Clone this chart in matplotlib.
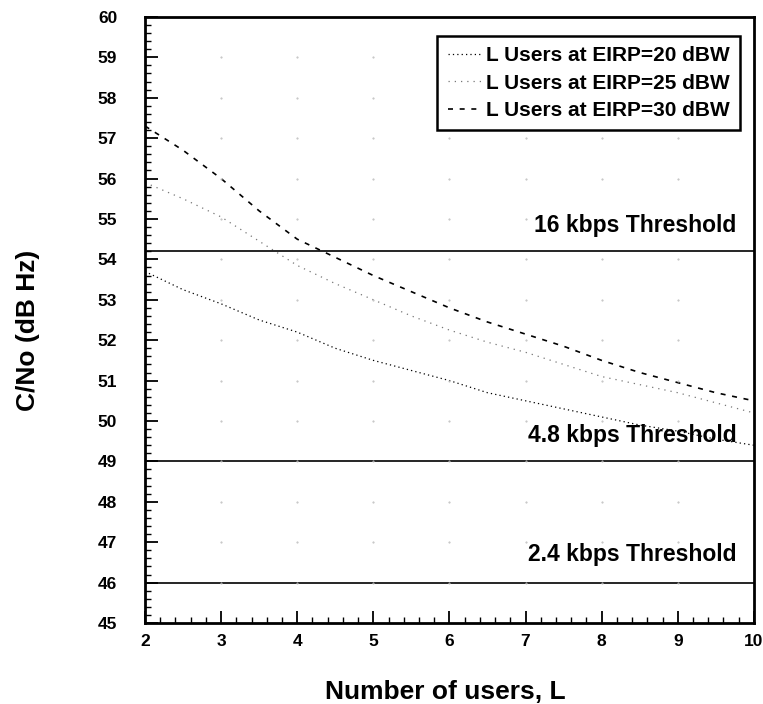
import matplotlib
matplotlib.use("Agg")
import matplotlib.pyplot as plt
from matplotlib.ticker import MultipleLocator

plt.rcParams["font.family"] = ["Liberation Sans", "DejaVu Sans"]
plt.rcParams["font.weight"] = "bold"

# Data
users = [2, 2.5, 3, 3.5, 4, 4.5, 5, 5.5, 6, 6.5, 7, 7.5, 8, 8.5, 9, 9.5, 10]
cno_eirp20 = [53.7, 53.25, 52.9, 52.5, 52.2, 51.8, 51.5, 51.25, 51.0, 50.7, 50.5, 50.3, 50.1, 49.9, 49.75, 49.55, 49.4]
cno_eirp25 = [55.9, 55.5, 55.05, 54.45, 53.85, 53.4, 53.0, 52.6, 52.25, 51.95, 51.7, 51.4, 51.1, 50.9, 50.7, 50.45, 50.2]
cno_eirp30 = [57.3, 56.7, 56.0, 55.2, 54.5, 54.05, 53.6, 53.2, 52.8, 52.45, 52.15, 51.85, 51.5, 51.2, 50.95, 50.7, 50.5]

series_labels = ["L Users at EIRP=20 dBW", "L Users at EIRP=25 dBW", "L Users at EIRP=30 dBW"]

thresholds = [54.2, 49.0, 46.0]
threshold_labels = ["16 kbps Threshold", "4.8 kbps Threshold", "2.4 kbps Threshold"]
label_y = [54.85, 49.65, 46.7]

fig = plt.figure(figsize=(7.63, 7.04), dpi=100)
ax = fig.add_axes([0.190, 0.115, 0.798, 0.861])

ax.plot(users, cno_eirp20, color="black", lw=0.9, linestyle=(0, (1, 2.5)), label=series_labels[0])
ax.plot(users, cno_eirp25, color="#777777", lw=0.9, linestyle=(0, (1, 4)), label=series_labels[1])
ax.plot(users, cno_eirp30, color="black", lw=1.2, linestyle=(0, (3, 4)), label=series_labels[2])

for yv, txt, ty in zip(thresholds, threshold_labels, label_y):
    ax.axhline(yv, color="black", lw=1.2)
    ax.text(9.77, ty, txt, ha="right", va="center", fontsize=16.5, fontweight="bold")

# faint dots at grid intersections, like the scan
for gx in range(3, 10):
    ax.plot([gx] * 14, list(range(46, 60)), linestyle="none", marker=".", ms=1.0, color="#bbbbbb")

ax.set_xlim(2, 10)
ax.set_ylim(45, 60)
ax.xaxis.set_major_locator(MultipleLocator(1))
ax.xaxis.set_minor_locator(MultipleLocator(0.2))
ax.yaxis.set_major_locator(MultipleLocator(1))
ax.yaxis.set_minor_locator(MultipleLocator(0.2))
ax.tick_params(which="major", direction="in", length=9, width=1.3, labelsize=12.5)
ax.tick_params(axis="y", which="major", pad=20)
ax.tick_params(axis="x", which="major", pad=8)
ax.tick_params(which="minor", direction="in", length=4, width=1.0)
ax.tick_params(top=False, right=False)
for lab in ax.get_xticklabels() + ax.get_yticklabels():
    lab.set_fontweight("bold")
for sp in ax.spines.values():
    sp.set_linewidth(2)

ax.set_xlabel("Number of users, L", fontsize=19, fontweight="bold")
ax.set_ylabel("C/No (dB Hz)", fontsize=19, fontweight="bold")
ax.xaxis.set_label_coords(0.494, -0.094)
ax.yaxis.set_label_coords(-0.172, 0.483)

leg = ax.legend(loc="upper right", fontsize=15, handlelength=1.6, handletextpad=0.25,
                borderpad=0.5, labelspacing=0.4, fancybox=False, framealpha=1,
                edgecolor="black", bbox_to_anchor=(0.995, 0.986))
leg.get_frame().set_linewidth(1.8)
for t in leg.get_texts():
    t.set_fontweight("bold")

fig.savefig("out.png", dpi=100)
